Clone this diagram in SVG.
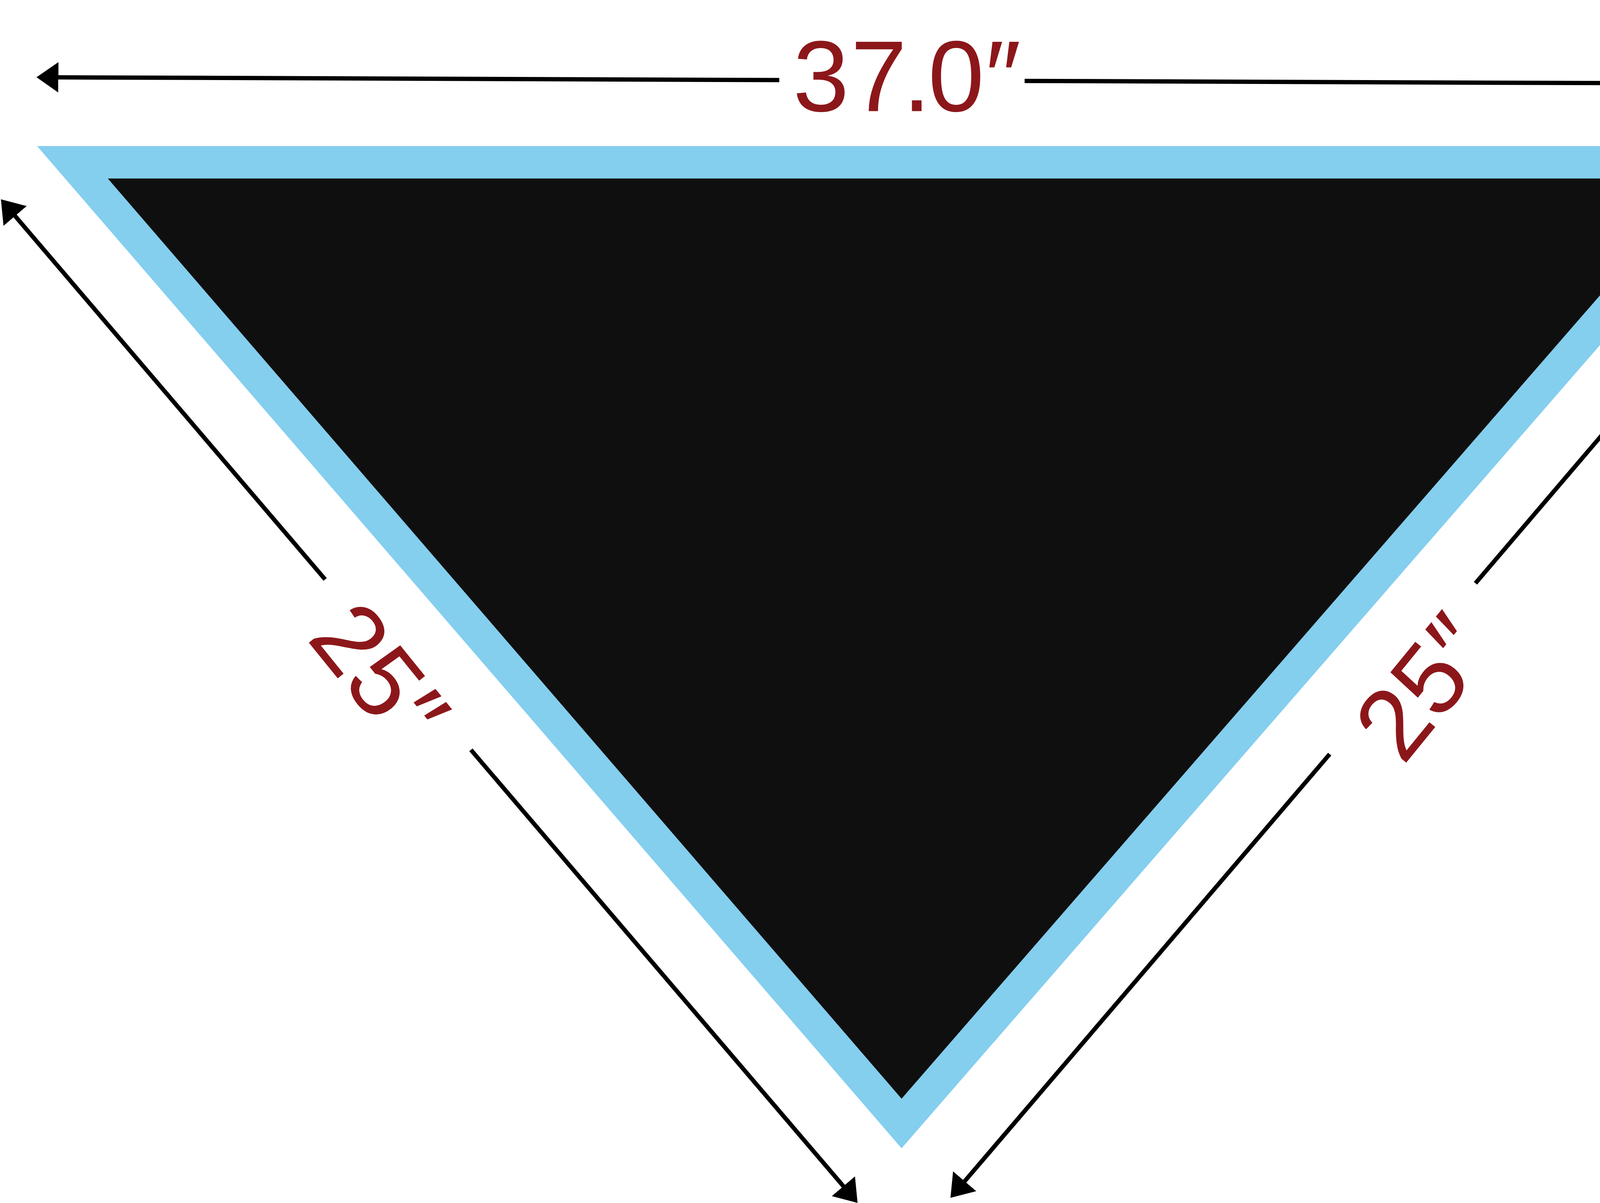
<svg xmlns="http://www.w3.org/2000/svg" width="4629" height="3080" viewBox="0 0 4629 3080">
<style>
.dim{fill:none;stroke:#000;stroke-width:11;stroke-linecap:butt}
.lbl{font-family:"Liberation Sans",Arial,sans-serif;font-size:258px;fill:#8C171A}
</style>
<defs>
<marker id="arrow" markerUnits="userSpaceOnUse" markerWidth="56" markerHeight="78" viewBox="0 0 56 78" refX="1" refY="39" orient="auto">
<path d="M0,0 L56,39 L0,78 Z" fill="#000"/>
</marker>
</defs>
<rect width="4629" height="3080" fill="#fff"/>
<g id="banner">
<polygon points="95,374 4539,374 2308,2940" fill="#84CEEE"/>
<polygon points="276,457 4356,457 2308,2813" fill="#0F0F0F"/>
</g>
<g id="dimension-lines">
<path class="dim" d="M1995,205 L148.5,198" marker-end="url(#arrow)"/>
<path class="dim" d="M2623,207.2 L4541,214.4" marker-end="url(#arrow)"/>
<path class="dim" d="M832.4,1483.5 L38,552.2" marker-end="url(#arrow)"/>
<path class="dim" d="M1205.5,1919.7 L2159.7,3037.8" marker-end="url(#arrow)"/>
<path class="dim" d="M3404,1930.7 L2468.9,3025" marker-end="url(#arrow)"/>
<path class="dim" d="M3777.2,1493.3 L4590.5,540" marker-end="url(#arrow)"/>
</g>
<g id="label-top">
<text class="lbl" x="2030 2178 2311 2376 2522" y="284.5">37.0″</text>
</g>
<g id="label-left">
<text class="lbl" font-size="260" transform="translate(782.5,1635.4) rotate(51)" x="0 144 290" y="0">25″</text>
</g>
<g id="label-right">
<text class="lbl" font-size="260" transform="translate(3591.8,1962.5) rotate(-50.8)" x="0 145 289" y="0">25″</text>
</g>
</svg>
